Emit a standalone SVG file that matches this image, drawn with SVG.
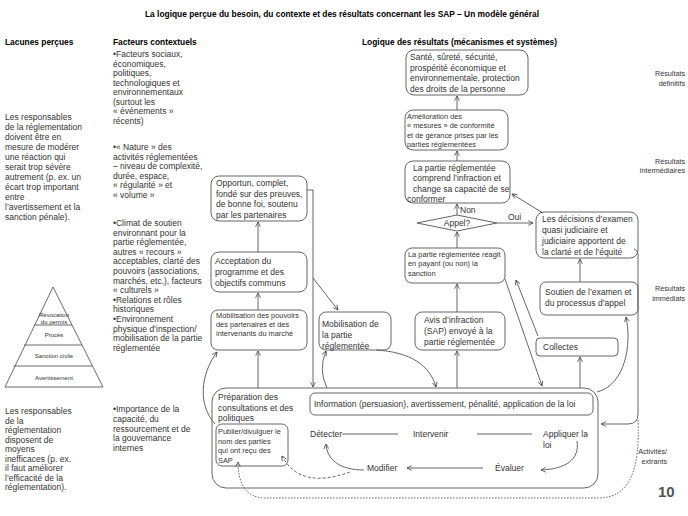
<svg xmlns="http://www.w3.org/2000/svg" width="688" height="516" viewBox="0 0 688 516">
<style>
text{font-family:"Liberation Sans",Arial,sans-serif;fill:#333;font-size:8.5px}
.title{font-weight:bold;fill:#000;font-size:8.4px}
.hdr{font-weight:bold;fill:#000;font-size:8.4px}
.sm{font-size:7.4px}
.lbl{font-size:7.2px;text-anchor:end}
.pyr{font-size:6px;text-anchor:middle}
.box{fill:#fff;stroke:#666;stroke-width:1}
.ln{fill:none;stroke:#555;stroke-width:0.9}
.arw{marker-end:url(#arr)}
.dash{stroke-dasharray:3,2}
.dot{stroke-dasharray:1.5,1.5}
</style>
<defs>
<marker id="arr" viewBox="0 0 10 10" refX="9" refY="5" markerWidth="6" markerHeight="6" markerUnits="userSpaceOnUse" orient="auto"><path d="M1,1 L9,5 L1,9" fill="none" stroke="#444" stroke-width="1.3"/></marker>
</defs>
<rect width="688" height="516" fill="#fff"/>
<text class="title" x="342" y="17" text-anchor="middle">La logique perçue du besoin, du contexte et des résultats concernant les SAP – Un modèle général</text>
<text class="hdr" x="5" y="45">Lacunes perçues</text>
<text class="hdr" x="113" y="45">Facteurs contextuels</text>
<text class="hdr" x="362" y="45">Logique des résultats (mécanismes et systèmes)</text>

<g id="col-lacunes">
<text x="5" y="120">Les responsables</text>
<text x="5" y="130">de la réglementation</text>
<text x="5" y="140">doivent être en</text>
<text x="5" y="150">mesure de modérer</text>
<text x="5" y="160">une réaction qui</text>
<text x="5" y="170">serait trop sévère</text>
<text x="5" y="180">autrement (p. ex. un</text>
<text x="5" y="190">écart trop important</text>
<text x="5" y="200">entre</text>
<text x="5" y="210">l’avertissement et la</text>
<text x="5" y="220">sanction pénale).</text>
<text x="5" y="414">Les responsables</text>
<text x="5" y="423.5">de la</text>
<text x="5" y="433">réglementation</text>
<text x="5" y="442.5">disposent de</text>
<text x="5" y="452">moyens</text>
<text x="5" y="461.5">inefficaces (p. ex.</text>
<text x="5" y="471">il faut améliorer</text>
<text x="5" y="480.5">l’efficacité de la</text>
<text x="5" y="490">réglementation).</text>
</g>

<g id="pyramide">
<polygon points="53,287 103,387 5,387" fill="none" stroke="#444" stroke-width="0.8"/>
<line x1="34" y1="325" x2="72" y2="325" stroke="#444" stroke-width="0.8"/>
<line x1="24" y1="345" x2="82" y2="345" stroke="#444" stroke-width="0.8"/>
<line x1="13.5" y1="366" x2="92.5" y2="366" stroke="#444" stroke-width="0.8"/>
<text class="pyr" x="54" y="317">Révocation</text>
<text class="pyr" x="54" y="324">du permis</text>
<text class="pyr" x="54" y="337">Procès</text>
<text class="pyr" x="54" y="358">Sanction civile</text>
<text class="pyr" x="54" y="380">Avertissement</text>
</g>

<g id="col-facteurs">
<text x="113" y="57">•Facteurs sociaux,</text>
<text x="113" y="66.5">économiques,</text>
<text x="113" y="76">politiques,</text>
<text x="113" y="85.5">technologiques et</text>
<text x="113" y="95">environnementaux</text>
<text x="113" y="104.5">(surtout  les</text>
<text x="113" y="114">« événements  »</text>
<text x="113" y="123.5">récents)</text>
<text x="113" y="150">•« Nature  » des</text>
<text x="113" y="159.5">activités réglementées</text>
<text x="113" y="169">– niveau  de complexité,</text>
<text x="113" y="178.5">durée, espace,</text>
<text x="113" y="188">« régularité  » et</text>
<text x="113" y="197.5">« volume  »</text>
<text x="113" y="226">•Climat de soutien</text>
<text x="113" y="235.6">environnant  pour la</text>
<text x="113" y="245.2">partie réglementée,</text>
<text x="113" y="254.8">autres « recours  »</text>
<text x="113" y="264.4">acceptables, clarté des</text>
<text x="113" y="274">pouvoirs (associations,</text>
<text x="113" y="283.6">marchés, etc.), facteurs</text>
<text x="113" y="293.2">« culturels  »</text>
<text x="113" y="302.8">•Relations et rôles</text>
<text x="113" y="312.4">historiques</text>
<text x="113" y="322">•Environnement</text>
<text x="113" y="331.6">physique d’inspection/</text>
<text x="113" y="341.2">mobilisation de la partie</text>
<text x="113" y="350.8">réglementée</text>
<text x="113" y="412">•Importance de la</text>
<text x="113" y="421.8">capacité, du</text>
<text x="113" y="431.6">ressourcement et de</text>
<text x="113" y="441.4">la gouvernance</text>
<text x="113" y="451.2">internes</text>
</g>

<g id="labels-droite">
<text class="lbl" x="685" y="76">Résultats</text>
<text class="lbl" x="685" y="85.5">définitifs</text>
<text class="lbl" x="685" y="163.5">Résultats</text>
<text class="lbl" x="685" y="173">intermédiaires</text>
<text class="lbl" x="685" y="291">Résultats</text>
<text class="lbl" x="685" y="300.5">immédiats</text>
<text class="lbl" x="667" y="454">Activités/</text>
<text class="lbl" x="667" y="463.5">extrants</text>
<text x="658" y="497" style="font-size:15px;font-weight:bold;fill:#555">10</text>
</g>

<g id="n-outer">
<rect class="box" x="212" y="388" width="386" height="100" rx="14"/>
<text x="218" y="400">Préparation des</text>
<text x="218" y="410.5">consultations et des</text>
<text x="218" y="421">politiques</text>
<text x="310" y="437">Détecter</text>
<text x="413" y="437">Intervenir</text>
<text x="543" y="437">Appliquer la</text>
<text x="543" y="447.5">loi</text>
<text x="367" y="471">Modifier</text>
<text x="495" y="471">Évaluer</text>
</g>
<g id="n-info">
<rect class="box" x="310" y="393" width="283" height="22" rx="5"/>
<text x="314" y="407">Information (persuasion), avertissement, pénalité, application de la loi</text>
</g>
<g id="n-publier">
<rect class="box" x="216" y="424" width="72" height="42" rx="6"/>
<text class="sm" x="218" y="434">Publier/divulguer le</text>
<text class="sm" x="218" y="443.5">nom des parties</text>
<text class="sm" x="218" y="453">qui ont reçu des</text>
<text class="sm" x="218" y="462.5">SAP</text>
</g>
<g id="n-sante">
<rect class="box" x="406" y="50" width="122" height="45" rx="8"/>
<text x="410" y="60">Santé, sûreté, sécurité,</text>
<text x="410" y="70.5">prospérité économique et</text>
<text x="410" y="81">environnementale,  protection</text>
<text x="410" y="91.5">des droits de la personne</text>
</g>
<g id="n-amelioration">
<rect class="box" x="405" y="110" width="103" height="40" rx="8"/>
<text class="sm" x="407" y="118.5">Amélioration des</text>
<text class="sm" x="407" y="128">« mesures » de conformité</text>
<text class="sm" x="407" y="137.5">et de gérance prises par les</text>
<text class="sm" x="407" y="147">parties réglementées</text>
</g>
<g id="n-comprend">
<rect class="box" x="405" y="161" width="105" height="42" rx="8"/>
<text x="413" y="170.5">La partie réglementée</text>
<text x="413" y="181">comprend l’infraction et</text>
<text x="413" y="191.5">change sa capacité de se</text>
<text x="407" y="202">conformer</text>
</g>
<g id="n-appel">
<polygon class="box" points="417,223 457,215 497,223 457,231"/>
<text x="457" y="226" text-anchor="middle">Appel?</text>
</g>
<g id="n-decisions">
<rect class="box" x="536" y="212" width="102" height="46" rx="8"/>
<text x="542" y="221.5">Les décisions d’examen</text>
<text x="542" y="232.5">quasi judiciaire et</text>
<text x="542" y="243.5">judiciaire apportent de</text>
<text x="542" y="254.5">la clarté et de l’équité</text>
</g>
<g id="n-reagit">
<rect class="box" x="405" y="248" width="100" height="35" rx="7"/>
<text class="sm" x="408" y="257">La partie réglementée réagit</text>
<text class="sm" x="408" y="266">en payant (ou non) la</text>
<text class="sm" x="408" y="275.5">sanction</text>
</g>
<g id="n-avis">
<rect class="box" x="415" y="312" width="90" height="38" rx="7"/>
<text x="424" y="323">Avis d’infraction</text>
<text x="424" y="334">(SAP) envoyé  à la</text>
<text x="424" y="345">partie réglementée</text>
</g>
<g id="n-collectes">
<rect class="box" x="536" y="338" width="82" height="18" rx="4"/>
<text x="543" y="350">Collectes</text>
</g>
<g id="n-soutien">
<rect class="box" x="540" y="282" width="98" height="33" rx="6"/>
<text x="545" y="295">Soutien de l’examen et</text>
<text x="545" y="306">du processus  d’appel</text>
</g>
<g id="n-opportun">
<rect class="box" x="211" y="176" width="96" height="45" rx="8"/>
<text x="216" y="186">Opportun,  complet,</text>
<text x="216" y="196.5">fondé sur  des preuves,</text>
<text x="216" y="207">de bonne  foi, soutenu</text>
<text x="216" y="217.5">par les partenaires</text>
</g>
<g id="n-acceptation">
<rect class="box" x="211" y="252" width="96" height="40" rx="8"/>
<text x="215" y="264">Acceptation du</text>
<text x="215" y="275">programme et des</text>
<text x="215" y="286">objectifs communs</text>
</g>
<g id="n-mobpouvoirs">
<rect class="box" x="211" y="310" width="96" height="40" rx="7"/>
<text class="sm" x="216" y="318">Mobilisation des pouvoirs</text>
<text class="sm" x="216" y="327">des partenaires et des</text>
<text class="sm" x="216" y="336">intervenants du marché</text>
</g>
<g id="n-mobpartie">
<rect class="box" x="319" y="312" width="72" height="38" rx="7"/>
<text x="322" y="327">Mobilisation de</text>
<text x="322" y="338">la partie</text>
<text x="322" y="349">réglementée</text>
</g>

<g id="connecteurs">
<path class="ln arw" d="M457 110 L457 96"/>
<path class="ln arw" d="M457 161 L457 151"/>
<path class="ln arw" d="M457 215 L457 204"/>
<text x="460" y="213">Non</text>
<path class="ln arw" d="M457 248 L457 232"/>
<path class="ln arw" d="M457 312 L457 284"/>
<path class="ln arw" d="M457 388 L457 351"/>
<path class="ln arw" d="M497 223 L533 223"/>
<text x="508" y="220">Oui</text>
<path class="ln arw" d="M543 213 L512 194"/>
<path class="ln arw" d="M505 279 L542 386"/>
<path class="ln arw" d="M538 336 L516 280"/>
<path class="ln arw" d="M580 388 L580 357"/>
<path class="ln arw" d="M580 282 L580 259"/>
<path class="ln arw" d="M597 392 C 625 385, 632 345, 626 317"/>
<path class="ln arw" d="M634 249 Q 639 251 638 258 L638 414 Q 638 424 628 424 L601 424"/>
<path class="ln arw" d="M307 190 L313 190 L313 387"/>
<path class="ln arw" d="M313 278 L338 310"/>
<path class="ln arw" d="M258 252 L258 222"/>
<path class="ln arw" d="M258 310 L258 293"/>
<path class="ln arw" d="M258 388 L258 351"/>
<path class="ln arw" d="M215 424 C 198 405, 200 375, 217 352"/>
<path class="ln arw" d="M327 388 Q 318 370 326 351"/>
<path class="ln arw" d="M376 350 C 410 352, 430 365, 436 387"/>
<path class="ln" d="M342 434 L398 434"/>
<path class="ln" d="M477 434 L532 434"/>
<path class="ln arw" d="M577 441 C 580 460, 565 469, 541 470"/>
<path class="ln arw" d="M483 468 L407 468"/>
<path class="ln arw" d="M364 470 C 340 470, 327 460, 326 444"/>
<path class="ln arw dash" d="M350 472 Q 300 490 282 456"/>
<path class="ln arw dot" d="M638 420 C 640 470, 630 498, 598 498 L265 498 C 245 498, 238 482, 238 462"/>
</g>
</svg>
